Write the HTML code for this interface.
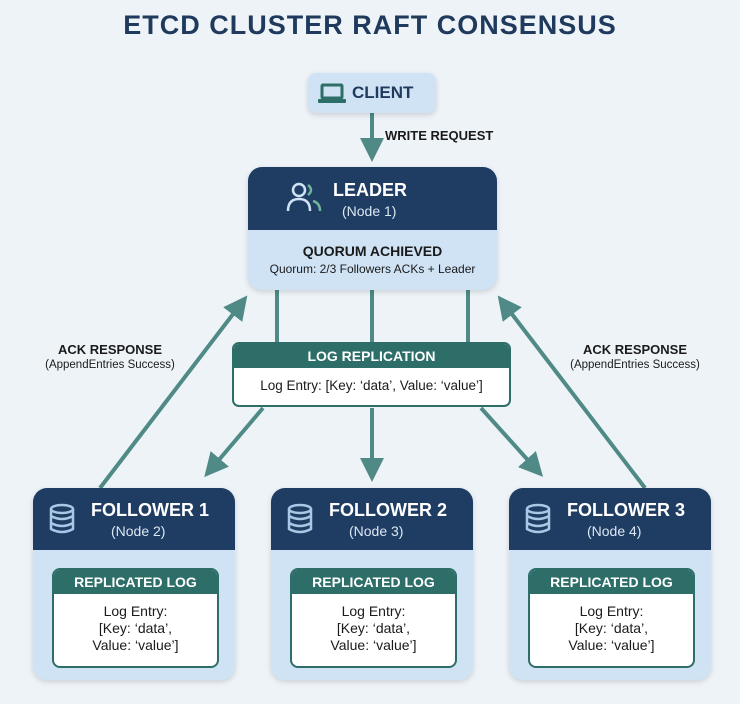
<!DOCTYPE html>
<html><head><style>
body{margin:0;width:740px;height:704px;background:#eef3f8;font-family:"Liberation Sans",sans-serif;position:relative;overflow:hidden}
.a{position:absolute}
.t{text-align:center;color:#1f3a5c}
.dark{background:#1f3d63;color:#fff}
.node{position:absolute;border-radius:14px;background:#cfe3f4;overflow:hidden;box-shadow:0 2px 6px rgba(0,0,0,.15)}
.hdr{position:absolute;left:0;right:0;top:0;background:#1f3d63;color:#fff}
.inner{position:absolute;left:19px;width:163px;top:80px;height:96px;border:2px solid #2e6e68;border-radius:8px;background:#fff;overflow:hidden}
.ih{background:#2e6e68;color:#fff;font-weight:bold;font-size:14px;text-align:center;height:24px;line-height:24px}
.ib{text-align:center;font-size:14px;color:#1a1a1a;line-height:17px;margin-top:9px}
</style></head><body>
<div class="a t" style="left:0;width:740px;top:10px;font-size:27px;font-weight:bold;letter-spacing:1px">ETCD CLUSTER RAFT CONSENSUS</div>

<svg class="a" style="left:0;top:0" width="740" height="704">
<defs><marker id="m" markerWidth="6" markerHeight="6" refX="3" refY="3" orient="auto" markerUnits="strokeWidth"><path d="M0,0 L6,3 L0,6z" fill="#4f8a86"/></marker></defs>
<g stroke="#4f8a86" stroke-width="4" fill="none">
<line x1="372" y1="113" x2="372" y2="150" marker-end="url(#m)"/>
<line x1="277" y1="290" x2="277" y2="342"/>
<line x1="372" y1="290" x2="372" y2="342"/>
<line x1="468" y1="290" x2="468" y2="342"/>
<line x1="263" y1="408" x2="212" y2="468" marker-end="url(#m)"/>
<line x1="372" y1="408" x2="372" y2="470" marker-end="url(#m)"/>
<line x1="481" y1="408" x2="535" y2="468" marker-end="url(#m)"/>
<line x1="100" y1="488" x2="240" y2="305" marker-end="url(#m)"/>
<line x1="645" y1="488" x2="505" y2="305" marker-end="url(#m)"/>
</g></svg>

<div class="node" style="left:308px;top:73px;width:128px;height:40px;border-radius:8px"></div>
<svg class="a" style="left:318px;top:83px" width="28" height="22"><rect x="4" y="2" width="20" height="13" rx="1" fill="none" stroke="#2e6e68" stroke-width="3"/><rect x="0" y="16" width="28" height="4" rx="1" fill="#2e6e68"/></svg>
<div class="a" style="left:352px;top:83px;font-size:17px;font-weight:bold;color:#1f3a5c">CLIENT</div>
<div class="a" style="left:385px;top:128px;font-size:13px;font-weight:bold;color:#1a1a1a">WRITE REQUEST</div>

<div class="node" style="left:248px;top:167px;width:249px;height:123px">
<div class="hdr" style="height:63px"></div>
</div>
<svg class="a" style="left:286px;top:181px" width="38" height="34" fill="none" stroke="#cfe3f4" stroke-width="2.5"><circle cx="13" cy="9" r="6"/><path d="M2,30 Q2,18 13,18 Q24,18 24,30"/><path stroke="#6fb59a" d="M22,4 Q28,9 22,14 M27,20 Q34,22 34,30"/></svg>
<div class="a" style="left:333px;top:180px;font-size:18px;font-weight:bold;color:#fff">LEADER</div>
<div class="a" style="left:342px;top:203px;font-size:14px;color:#dbe7f3">(Node 1)</div>
<div class="a t" style="left:248px;width:249px;top:243px;font-size:14px;font-weight:bold;color:#1a1a1a">QUORUM ACHIEVED</div>
<div class="a t" style="left:248px;width:249px;top:262px;font-size:12px;color:#1a1a1a">Quorum: 2/3 Followers ACKs + Leader</div>

<div class="a" style="left:232px;top:342px;width:275px;height:61px;border:2px solid #2e6e68;border-radius:7px;background:#fff;overflow:hidden">
<div class="ih" style="height:24px">LOG REPLICATION</div>
<div style="text-align:center;font-size:13.5px;margin-top:10px;color:#1a1a1a">Log Entry: [Key: ‘data’, Value: ‘value’]</div>
</div>

<div class="a t" style="left:20px;width:180px;top:342px;font-size:13px;font-weight:bold;color:#1a1a1a">ACK RESPONSE</div>
<div class="a t" style="left:20px;width:180px;top:359px;font-size:11.5px;color:#1a1a1a">(AppendEntries Success)</div>
<div class="a t" style="left:545px;width:180px;top:342px;font-size:13px;font-weight:bold;color:#1a1a1a">ACK RESPONSE</div>
<div class="a t" style="left:545px;width:180px;top:359px;font-size:11.5px;color:#1a1a1a">(AppendEntries Success)</div>

<!-- followers -->
<div class="node" style="left:33px;top:488px;width:202px;height:192px"><div class="hdr" style="height:62px"></div>
<div class="inner"><div class="ih">REPLICATED LOG</div><div class="ib">Log Entry:<br>[Key: ‘data’,<br>Value: ‘value’]</div></div></div>
<div class="node" style="left:271px;top:488px;width:202px;height:192px"><div class="hdr" style="height:62px"></div>
<div class="inner"><div class="ih">REPLICATED LOG</div><div class="ib">Log Entry:<br>[Key: ‘data’,<br>Value: ‘value’]</div></div></div>
<div class="node" style="left:509px;top:488px;width:202px;height:192px"><div class="hdr" style="height:62px"></div>
<div class="inner"><div class="ih">REPLICATED LOG</div><div class="ib">Log Entry:<br>[Key: ‘data’,<br>Value: ‘value’]</div></div></div>

<svg class="a" style="left:48px;top:503px" width="28" height="32" fill="none" stroke="#a9c8e6" stroke-width="2.5"><ellipse cx="14" cy="6" rx="11" ry="4"/><path d="M3,6 V26 Q14,32 25,26 V6 M3,13 Q14,19 25,13 M3,20 Q14,26 25,20"/></svg>
<svg class="a" style="left:286px;top:503px" width="28" height="32" fill="none" stroke="#a9c8e6" stroke-width="2.5"><ellipse cx="14" cy="6" rx="11" ry="4"/><path d="M3,6 V26 Q14,32 25,26 V6 M3,13 Q14,19 25,13 M3,20 Q14,26 25,20"/></svg>
<svg class="a" style="left:524px;top:503px" width="28" height="32" fill="none" stroke="#a9c8e6" stroke-width="2.5"><ellipse cx="14" cy="6" rx="11" ry="4"/><path d="M3,6 V26 Q14,32 25,26 V6 M3,13 Q14,19 25,13 M3,20 Q14,26 25,20"/></svg>

<div class="a" style="left:91px;top:500px;font-size:18px;font-weight:bold;color:#fff">FOLLOWER 1</div>
<div class="a" style="left:111px;top:523px;font-size:14px;color:#dbe7f3">(Node 2)</div>
<div class="a" style="left:329px;top:500px;font-size:18px;font-weight:bold;color:#fff">FOLLOWER 2</div>
<div class="a" style="left:349px;top:523px;font-size:14px;color:#dbe7f3">(Node 3)</div>
<div class="a" style="left:567px;top:500px;font-size:18px;font-weight:bold;color:#fff">FOLLOWER 3</div>
<div class="a" style="left:587px;top:523px;font-size:14px;color:#dbe7f3">(Node 4)</div>
</body></html>
